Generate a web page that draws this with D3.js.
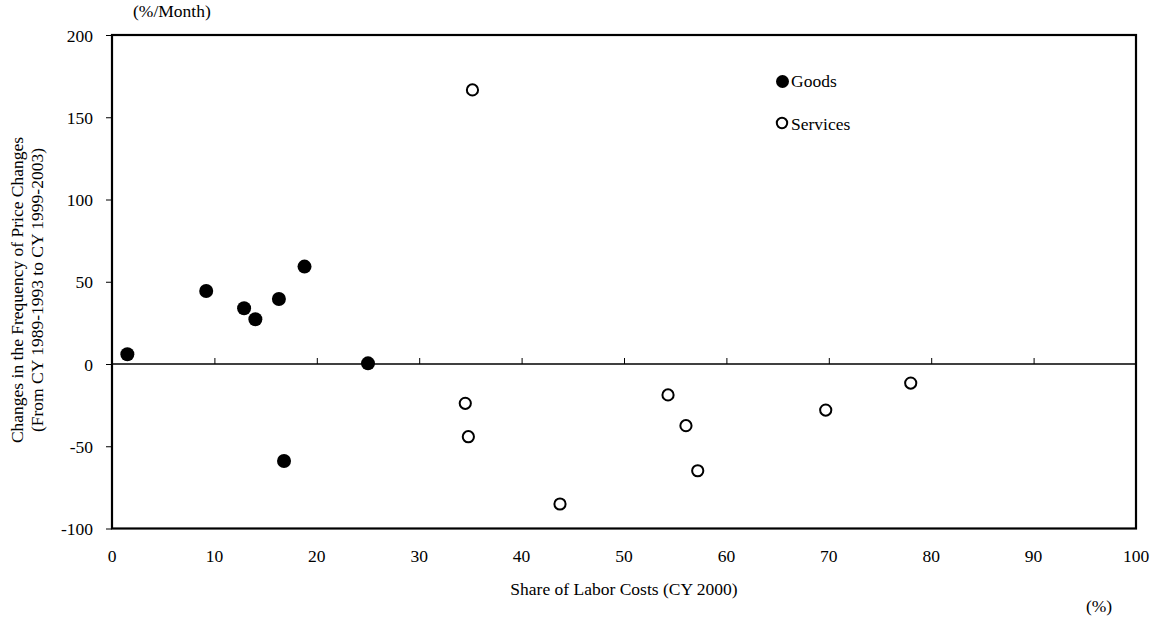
<!DOCTYPE html>
<html><head><meta charset="utf-8">
<script src="https://cdn.jsdelivr.net/npm/d3@7"></script>
<style>body{margin:0;background:#fff}svg{display:block}text{font-family:"Liberation Serif","Times New Roman",serif;fill:#000}</style>
</head><body><svg id="c" width="1156" height="621"></svg>
<script>
const goodsX = [1.5, 9.2, 12.9, 14.0, 16.3, 18.8, 25.0, 16.8];
const goodsY = [5.9, 44.4, 33.9, 27.2, 39.5, 59.2, 0.4, -59.0];
const servicesX = [35.2, 34.5, 34.8, 43.75, 54.3, 56.05, 57.2, 69.7, 78.0];
const servicesY = [166.6, -23.9, -44.2, -85.1, -18.8, -37.5, -64.9, -28.0, -11.6];
const xTicks = [0,10,20,30,40,50,60,70,80,90,100];
const yTicks = [-100,-50,0,50,100,150,200];

const svg = d3.select("#c");
const L=112, R=1136, T=35, B=528.5;
const x = d3.scaleLinear().domain([0,100]).range([L,R]);
const y = d3.scaleLinear().domain([-100,200]).range([B,T]);

// frame
svg.append("rect").attr("x",L).attr("y",T).attr("width",R-L).attr("height",B-T)
  .attr("fill","none").attr("stroke","#000").attr("stroke-width",2.2);

// y axis ticks & labels
const ya = svg.append("g").attr("transform",`translate(${L},0)`)
  .call(d3.axisLeft(y).tickValues(yTicks).tickSize(6).tickSizeOuter(0).tickPadding(13).tickFormat(d=>String(d)));
ya.select(".domain").remove();
ya.selectAll("line").attr("stroke","#000").attr("stroke-width",1);
ya.selectAll("text").style("font-size","17.5px").style("font-family","Liberation Serif").attr("dy","0.35em");

// zero line with upward ticks
svg.append("line").attr("x1",L).attr("x2",R).attr("y1",y(0)).attr("y2",y(0))
  .attr("stroke","#000").attr("stroke-width",1.6);
const xa = svg.append("g").attr("transform",`translate(0,${y(0)})`)
  .call(d3.axisTop(x).tickValues(xTicks.slice(1,-1)).tickSize(6).tickSizeOuter(0).tickFormat(""));
xa.select(".domain").remove();
xa.selectAll("line").attr("stroke","#000").attr("stroke-width",1);

// x tick labels at bottom
svg.append("g").selectAll("text").data(xTicks).join("text")
  .attr("x",d=>x(d)).attr("y",562).attr("text-anchor","middle")
  .style("font-size","17.5px").text(d=>d);

// points
svg.append("g").selectAll("circle").data(goodsX.map((d,i)=>[d,goodsY[i]])).join("circle")
  .attr("cx",d=>x(d[0])).attr("cy",d=>y(d[1])).attr("r",7).attr("fill","#000");
svg.append("g").selectAll("circle").data(servicesX.map((d,i)=>[d,servicesY[i]])).join("circle")
  .attr("cx",d=>x(d[0])).attr("cy",d=>y(d[1])).attr("r",5.6).attr("fill","#fff")
  .attr("stroke","#000").attr("stroke-width",2);

// legend
svg.append("circle").attr("cx",782.5).attr("cy",81.5).attr("r",6.5).attr("fill","#000");
svg.append("text").attr("x",791).attr("y",87).style("font-size","17.5px").text("Goods");
svg.append("circle").attr("cx",782).attr("cy",123).attr("r",5.2).attr("fill","#fff").attr("stroke","#000").attr("stroke-width",2);
svg.append("text").attr("x",791).attr("y",130).style("font-size","17.5px").text("Services");

// titles
svg.append("text").attr("x",133).attr("y",17).style("font-size","17.5px").text("(%/Month)");
svg.append("text").attr("x",624).attr("y",595).attr("text-anchor","middle").style("font-size","17.5px").text("Share of Labor Costs (CY 2000)");
svg.append("text").attr("x",1099).attr("y",612).attr("text-anchor","middle").style("font-size","17.5px").text("(%)");
const yl = svg.append("text").attr("transform","translate(0,290) rotate(-90)").attr("text-anchor","middle").style("font-size","17.5px");
yl.append("tspan").attr("x",0).attr("y",23).text("Changes in the Frequency of Price Changes");
yl.append("tspan").attr("x",0).attr("y",43).text("(From CY 1989-1993 to CY 1999-2003)");
</script></body></html>
